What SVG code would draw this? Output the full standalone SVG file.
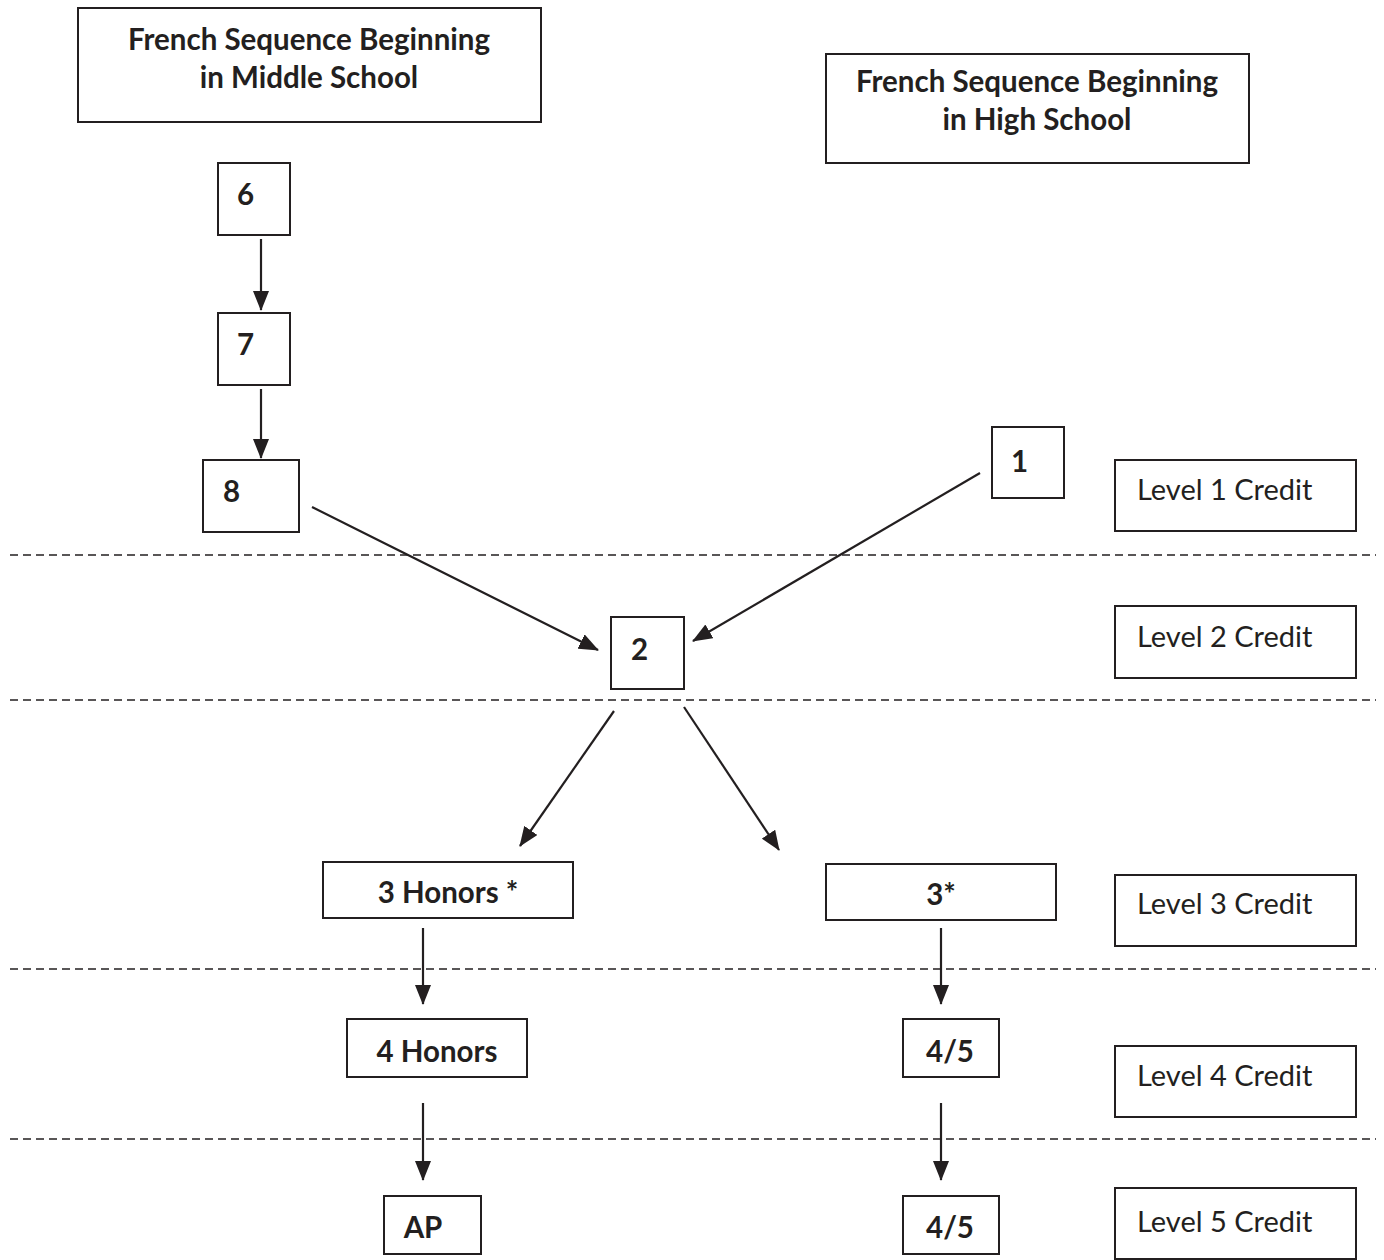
<svg xmlns="http://www.w3.org/2000/svg" width="1384" height="1260" viewBox="0 0 1384 1260">
<style>
.box{fill:#fff;stroke:#231f20;stroke-width:2}
.b{font-family:Lato,"Open Sans",sans-serif;font-weight:bold;font-size:29.5px;fill:#231f20}
.r{font-family:Lato,"Open Sans",sans-serif;font-size:29px;fill:#231f20}
.c{stroke:#231f20;stroke-width:2.2;fill:none;marker-end:url(#ah)}
.d{stroke:#231f20;stroke-width:1.5;stroke-dasharray:8 5}
</style>
<defs>
<marker id="ah" viewBox="0 0 20 16" refX="19" refY="8" markerWidth="20" markerHeight="16" markerUnits="userSpaceOnUse" orient="auto">
<path d="M0,0 L20,8 L0,16 Z" fill="#231f20"/>
</marker>
</defs>
<g id="dividers">
<line class="d" x1="10" y1="555" x2="1376" y2="555"/>
<line class="d" x1="10" y1="700" x2="1376" y2="700"/>
<line class="d" x1="10" y1="969" x2="1376" y2="969"/>
<line class="d" x1="10" y1="1139" x2="1376" y2="1139"/>
</g>
<g id="connectors">
<line class="c" x1="261" y1="239" x2="261" y2="310"/>
<line class="c" x1="261" y1="389" x2="261" y2="458"/>
<line class="c" x1="312" y1="507" x2="598" y2="650"/>
<line class="c" x1="980" y1="473" x2="693" y2="641"/>
<line class="c" x1="614" y1="711" x2="520" y2="846"/>
<line class="c" x1="684" y1="707" x2="779" y2="850"/>
<line class="c" x1="423" y1="928" x2="423" y2="1004"/>
<line class="c" x1="423" y1="1103" x2="423" y2="1180"/>
<line class="c" x1="941" y1="928" x2="941" y2="1004"/>
<line class="c" x1="941" y1="1103" x2="941" y2="1180"/>
</g>
<g id="title-ms"><rect class="box" x="78" y="8" width="463" height="114"/>
<text class="b" text-anchor="middle" x="309" y="50">French Sequence Beginning</text>
<text class="b" text-anchor="middle" x="309" y="88">in Middle School</text></g>
<g id="title-hs"><rect class="box" x="826" y="54" width="423" height="109"/>
<text class="b" text-anchor="middle" x="1037" y="92">French Sequence Beginning</text>
<text class="b" text-anchor="middle" x="1037" y="130">in High School</text></g>
<g id="n6"><rect class="box" x="218" y="163" width="72" height="72"/><text class="b" x="237" y="205">6</text></g>
<g id="n7"><rect class="box" x="218" y="313" width="72" height="72"/><text class="b" x="237" y="355">7</text></g>
<g id="n8"><rect class="box" x="203" y="460" width="96" height="72"/><text class="b" x="223" y="502">8</text></g>
<g id="n1"><rect class="box" x="992" y="427" width="72" height="71"/><text class="b" x="1011" y="472">1</text></g>
<g id="n2"><rect class="box" x="611" y="617" width="73" height="72"/><text class="b" x="631" y="660">2</text></g>
<g id="n3h"><rect class="box" x="323" y="862" width="250" height="56"/><text class="b" text-anchor="middle" x="448" y="903">3 Honors *</text></g>
<g id="n3"><rect class="box" x="826" y="864" width="230" height="56"/><text class="b" text-anchor="middle" x="941" y="905">3*</text></g>
<g id="n4h"><rect class="box" x="347" y="1019" width="180" height="58"/><text class="b" text-anchor="middle" x="437" y="1062">4 Honors</text></g>
<g id="n45a"><rect class="box" x="903" y="1019" width="96" height="58"/><text class="b" text-anchor="middle" x="950" y="1062">4/5</text></g>
<g id="nap"><rect class="box" x="384" y="1196" width="97" height="58"/><text class="b" text-anchor="middle" x="423" y="1238">AP</text></g>
<g id="n45b"><rect class="box" x="903" y="1196" width="96" height="58"/><text class="b" text-anchor="middle" x="950" y="1238">4/5</text></g>
<g id="l1"><rect class="box" x="1115" y="460" width="241" height="71"/><text class="r" x="1137" y="500">Level 1 Credit</text></g>
<g id="l2"><rect class="box" x="1115" y="606" width="241" height="72"/><text class="r" x="1137" y="647">Level 2 Credit</text></g>
<g id="l3"><rect class="box" x="1115" y="875" width="241" height="71"/><text class="r" x="1137" y="914">Level 3 Credit</text></g>
<g id="l4"><rect class="box" x="1115" y="1046" width="241" height="71"/><text class="r" x="1137" y="1086">Level 4 Credit</text></g>
<g id="l5"><rect class="box" x="1115" y="1188" width="241" height="71"/><text class="r" x="1137" y="1232">Level 5 Credit</text></g>
</svg>
